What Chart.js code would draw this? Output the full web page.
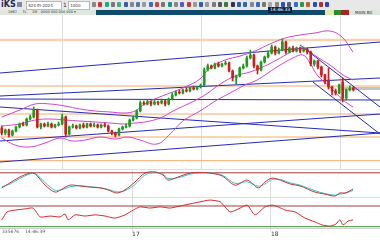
<!DOCTYPE html>
<html lang="en">
<head>
<meta charset="UTF-8" />
<title>chart</title>
<script src="https://cdn.jsdelivr.net/npm/chart.js@4.4.0/dist/chart.umd.min.js"></script>
<style>
  body { margin: 0; width: 380px; height: 240px; overflow: hidden; background: #fff; position: relative; font-family: 'DejaVu Sans', sans-serif; }
  .abs { position: absolute; white-space: nowrap; }
  canvas { position: absolute; left: 0; }
</style>
</head>
<body>
<div class="abs" style="left:0;top:0;width:380px;height:10px;background:#e8e8e8"></div>
<div class="abs" style="left:1px;top:0;font:bold 8px 'DejaVu Sans';color:#1b2b55;line-height:9px">iKS</div>
<div class="abs" style="left:17px;top:2px;width:5px;height:5px;background:#7a8aa8"></div>
<div class="abs" style="left:26px;top:1px;width:34px;height:7px;background:#fff;border:1px solid #bbb;font-size:4px;line-height:7px;color:#333">&nbsp;S24-EI-2024</div>
<div class="abs" style="left:63px;top:1px;font-size:6px;color:#333">1</div>
<div class="abs" style="left:68px;top:1px;width:20px;height:7px;background:#fff;border:1px solid #bbb;font-size:4px;line-height:7px;color:#333">&nbsp;1000</div>
<div id="icons"></div>
<div class="abs" style="left:0;top:10px;width:380px;height:5px;background:#dfe7df"></div>
<div class="abs" style="left:8px;top:10px;font-size:3.5px;line-height:5px;color:#333">1987 &nbsp;&nbsp;&nbsp; TL &nbsp;&nbsp;&nbsp; 1M &nbsp; 0000 000 000 000 ▾</div>
<div class="abs" style="left:96px;top:10px;width:229px;height:5px;background:#0f4c6c"></div>
<div class="abs" style="left:268px;top:7px;width:24px;height:6px;background:#0a2240;color:#fff;font-size:4.5px;line-height:6px;text-align:center">14:46:33</div>
<div class="abs" style="left:326px;top:10px;width:8px;height:5px;background:#e8e6b4"></div>
<div class="abs" style="left:334px;top:10px;width:7px;height:5px;background:#2f8a2f"></div>
<div class="abs" style="left:341px;top:10px;width:8px;height:5px;background:#a82424"></div>
<div class="abs" style="left:355px;top:10px;font-size:4px;line-height:5px;color:#333">MAIN.BG</div>

<canvas id="main" width="380" height="155" style="top:15px"></canvas>
<div class="abs" style="left:0;top:169px;width:380px;height:1px;background:#d6e0dc"></div>
<canvas id="stoch" width="380" height="28" style="top:170px"></canvas>
<div class="abs" style="left:0;top:197px;width:380px;height:1px;background:#dcdcdc"></div>
<canvas id="osc" width="380" height="42" style="top:198px"></canvas>
<div class="abs" style="left:2px;top:229px;font-size:4.5px;color:#555">335676 &nbsp;&nbsp; 14:46:39</div>

<script>
// candles (price units), bar index = position in arrays
const opens = [42,37,40,35,39,43,46,45,51,53, 60,43,46,44,46,43,45,46,53,36,
  43,44,42,45,43,46,44,45,43,45, 44,39,37,35,41,43,44,50,52,59,
  67,66,68,66,68,67,69,66,71,75, 78,77,80,79,82,81,83,85,100,104,
  102,106,104,106,107,99,92,94,102,104, 112,115,104,100,108,113,117,123,117,120,
  128,118,122,119,122,119,121,118,106,109, 103,95,90,83,79,77,88,72,80,82]
const closes = [37,40,35,39,43,46,45,51,53,60, 43,46,44,46,43,45,46,53,36,43,
  44,42,45,43,46,44,45,43,45,44, 39,37,35,41,43,44,50,52,59,67,
  66,68,66,68,67,69,66,71,75,78, 77,80,79,82,81,83,85,100,104,102,
  106,104,106,107,99,92,94,102,104,112, 115,104,100,108,113,117,123,117,120,128,
  118,122,119,122,119,121,118,106,109,103, 95,88,83,79,77,85,72,80,82,80]
const highs = [44,41,41,40,44,47,48,52,55,63, 61,47,47,48,47,46,48,56,54,44,
  46,45,46,47,47,47,47,46,46,47, 45,40,38,42,44,46,51,54,60,69,
  69,70,69,70,69,71,70,72,77,79, 80,81,82,83,84,84,86,102,106,105,
  107,108,107,109,108,100,95,103,106,114, 120,116,105,109,114,119,125,124,122,131,
  129,123,124,123,123,123,122,119,110,110, 104,96,102,84,81,86,92,81,84,83]
const lows = [35,35,33,34,38,42,44,44,50,52, 42,41,43,43,42,42,44,45,33,35,
  42,41,41,42,42,43,43,42,42,43, 38,35,33,34,40,42,43,49,51,58,
  65,65,64,65,65,66,64,65,70,74, 76,76,78,78,80,80,82,84,99,101,
  101,103,103,105,98,89,86,93,101,103, 111,102,96,99,107,112,116,115,116,119,
  116,117,118,118,117,118,116,104,104,101, 93,86,81,75,75,76,68,70,79,79]

// Bollinger bands as read [bar, price]
const bbUpper = [[0,53],[5.1,60],[9.4,66],[13.6,66],[17.8,64],[22,61],[26.3,59],[30.5,58],[34.7,57],[37.5,59],
  [40.3,66],[43.1,71],[47.4,77],[51.6,83],[55.8,91],[58.6,102],[62.9,110],[67.1,114],[71.3,119],[75.5,126],
  [79.8,132],[84,135],[88.2,137],[92.4,139],[95.8,133],[98.9,118]]
const bbMiddle = [[0,44],[5.1,46],[9.4,50],[13.6,51],[17.8,50],[22,49],[26.3,48],[30.5,47],[34.7,46],[37.5,47],
  [40.3,48],[44.6,52],[48.8,60],[53,67],[57.2,75],[61.5,86],[65.7,94],[69.9,98],[74.1,104],[78.4,112],
  [82,119],[84.8,122],[88.8,113],[92.4,105],[96.1,95],[98.9,90]]
const bbLower = [[0,32],[3.7,25],[7.9,23],[12.2,27],[16.4,32],[19.8,29],[23.4,30],[27.7,33],[31.9,31],[35.5,33],
  [38.9,30],[43.7,26],[47.4,36],[51,49],[55.8,59],[60.6,70],[64.3,77],[68.5,85],[71.9,90],[77.5,103],
  [82,112],[84.8,115],[86.8,107],[88.8,95],[92.4,83],[96.1,70],[98.9,63]]

// trend lines [bar0, price0, bar1, price1]
const trendLines = [[-0.5,97,106.5,128],[-0.5,74,106.5,92],[-0.5,71,106.5,70],[-0.5,63,106.5,37],
  [-0.5,8,106.5,37],[-0.5,29,106.5,56],[84,125,106.5,63],[87.6,88,106.5,36]]
const priceLevels = [130, 84, 56, 33, 9.3]
const priceMarker = 81.5

// stochastic [bar, K, D]
const stochRows = [[0,36,40],[2.3,54,50],[5.1,75,70],[7.9,89,86],[9.4,86,88],[12.2,46,55],[15,21,28],[17,32,30],
  [19.2,46,40],[22,43,44],[24.8,39,40],[27.7,36,37],[29.9,29,31],[32.4,18,22],[34.7,29,26],[37.5,57,48],
  [40.3,89,82],[43.1,93,92],[45.4,82,86],[46.8,64,70],[49.6,75,72],[53,89,85],[55.8,91,90],[58.6,89,90],
  [62,79,82],[65.7,46,52],[69.1,64,58],[72.2,36,42],[74.1,57,50],[76.1,71,66],[78.4,64,66],[81.2,50,54],
  [84,43,46],[88.2,21,26],[91,14,16],[93.8,7,10],[95.2,18,14],[96.7,18,17],[98.9,32,27]]
const stochLevel = 90

// lower oscillator [bar, value]
const oscRows = [[0,23],[1.5,50],[3.7,56],[6.5,60],[8.8,63],[10.8,33],[13.6,36],[16.4,33],[17.8,43],[18.7,23],
  [20.6,40],[23.4,36],[26.3,40],[29.1,36],[31.9,29],[34.7,40],[37,56],[38.9,67],[41.7,63],[44.6,67],
  [47.4,63],[50.2,70],[53,77],[55.8,84],[58.6,90],[61.5,84],[64.3,50],[67.1,63],[69.1,73],[71.3,40],
  [74.1,67],[76.1,73],[77.8,67],[79.8,56],[82.6,50],[85.4,29],[88.2,16],[90.2,6],[92.4,2],[94.1,9],
  [95.2,23],[96.1,6],[97.5,19],[98.9,23]]
const oscLevels = [70, 0]

const dayStarts = [36.7, 75.8]
const dayLabels = ['17', '18']

// toolbar icons (decoration)
const iconColors = ['#888','#c33','#2a7','#777','#4a8','#3a5da8','#888','#5577aa','#999','#3a6fc0','#c44','#777',
  '#2a8a8a','#888','#5a5ad0','#c03a3a','#999','#2a60b0','#999','#778','#555','#3a7a3a','#334','#3a5aa8','#2a6ab0',
  '#888','#3a6ac8','#777','#aaa','#888','#3050b0','#506080','#3a6ac8','#2a9a4a','#c06030','#2050c0','#b03030','#3040c0']
const iconsEl = document.getElementById('icons')
iconColors.forEach((c, i) => {
  const d = document.createElement('div')
  d.className = 'abs'
  d.style.cssText = 'left:' + (92 + i * 6.3) + 'px;top:2px;width:4px;height:5px;border-radius:1px;background:' + c
  iconsEl.appendChild(d)
})

const X_MIN = -0.5
const X_MAX = 106.5
const UP = '#1f9a1f'
const DOWN = '#cf1d1d'

const lineDs = (points, color, width, tension, order) => ({
  type: 'line',
  data: points.map((p) => ({ x: p[0], y: p[1] })),
  borderColor: color,
  borderWidth: width,
  pointRadius: 0,
  tension: tension,
  fill: false,
  order: order,
})

const xScale = (extra) => Object.assign({
  type: 'linear',
  min: X_MIN,
  max: X_MAX,
  offset: false,
  afterBuildTicks: (s) => { s.ticks = dayStarts.map((v) => ({ value: v })) },
  ticks: { display: false },
  grid: { color: '#dcdcdc', drawTicks: false },
  border: { display: false },
}, extra)

const baseOptions = (scales) => ({
  responsive: false,
  animation: false,
  layout: { padding: 0 },
  plugins: { legend: { display: false }, tooltip: { enabled: false } },
  scales: scales,
})

const candleColors = closes.map((c, i) => (c >= opens[i] ? UP : DOWN))

const mainSets = [
  {
    type: 'bar',
    data: lows.map((l, i) => ({ x: i, y: [l, highs[i]] })),
    backgroundColor: candleColors,
    barThickness: 1,
    grouped: false,
    order: 1,
  },
  {
    type: 'bar',
    data: opens.map((o, i) => ({ x: i, y: [o, closes[i]] })),
    backgroundColor: candleColors,
    barThickness: 2,
    grouped: false,
    order: 0,
  },
]
priceLevels.forEach((p, i) => {
  mainSets.push(lineDs([[X_MIN, p], [X_MAX, p]], i === 0 ? '#f5d2b0' : '#f2ad6c', i === 0 ? 2.5 : 1, 0, 5))
})
mainSets.push(lineDs([[95.5, priceMarker], [X_MAX, priceMarker]], '#c4c4c4', 3, 0, 5))
trendLines.forEach((t) => {
  mainSets.push(lineDs([[t[0], t[1]], [t[2], t[3]]], '#2a2ab4', 1, 0, 3))
})
mainSets.push(lineDs(bbUpper, '#d044d0', 1, 0.4, 2))
mainSets.push(lineDs(bbMiddle, '#d044d0', 1, 0.4, 2))
mainSets.push(lineDs(bbLower, '#d044d0', 1, 0.4, 2))

new Chart(document.getElementById('main'), {
  type: 'bar',
  data: { datasets: mainSets },
  options: baseOptions({
    x: xScale({}),
    y: { display: false, min: 0, max: 155 },
  }),
})

new Chart(document.getElementById('stoch'), {
  type: 'line',
  data: {
    datasets: [
      lineDs([[X_MIN, stochLevel], [X_MAX, stochLevel]], '#a03c3c', 1, 0, 3),
      lineDs(stochRows.map((r) => [r[0], r[2]]), '#33c9c9', 1, 0.3, 2),
      lineDs(stochRows.map((r) => [r[0], r[1]]), '#c83434', 1, 0.3, 1),
    ],
  },
  options: baseOptions({
    x: xScale({}),
    y: { display: false, min: 0, max: 100 },
  }),
})

new Chart(document.getElementById('osc'), {
  type: 'line',
  data: {
    datasets: [
      lineDs([[X_MIN, oscLevels[0]], [X_MAX, oscLevels[0]]], '#a03c3c', 1, 0, 3),
      lineDs([[X_MIN, oscLevels[1]], [X_MAX, oscLevels[1]]], '#3f8f3f', 1, 0, 3),
      lineDs(oscRows, '#d42a2a', 1, 0.2, 1),
    ],
  },
  options: baseOptions({
    x: xScale({
      ticks: {
        display: true,
        align: 'start',
        padding: 0,
        color: '#333',
        font: { size: 6, family: 'DejaVu Sans' },
        callback: (v, i) => dayLabels[i],
      },
      grid: { color: '#dcdcdc', drawTicks: true, tickLength: 3 },
      border: { display: true, color: '#cfcfcf' },
      afterFit: (s) => { s.height = 12 },
    }),
    y: { display: false, min: -4.4, max: 97 },
  }),
})
</script>
</body>
</html>
